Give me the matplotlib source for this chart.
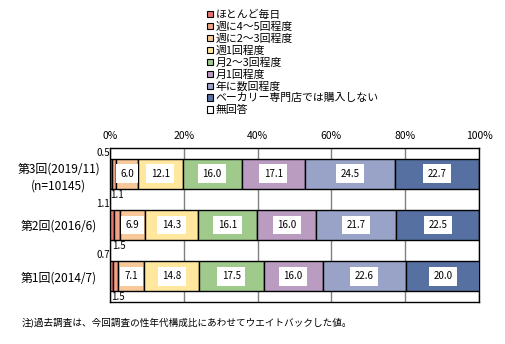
import matplotlib.pyplot as plt
import numpy as np

plt.rcParams['font.family'] = ['Noto Sans CJK JP', 'DejaVu Sans']

rounds = ['第3回(2019/11)\n(n=10145)', '第2回(2016/6)', '第1回(2014/7)']
items = ['ほとんど毎日', '週に4～5回程度', '週に2～3回程度', '週1回程度', '月2～3回程度',
         '月1回程度', '年に数回程度', 'ベーカリー専門店では購入しない', '無回答']
colors = ['#E8746C', '#F0A286', '#F9C89A', '#FFE79E', '#A0C98C',
          '#B99CC0', '#99A3C8', '#5670A2', '#FFFFFF']
values = np.array([
    [0.5, 1.1, 6.0, 12.1, 16.0, 17.1, 24.5, 22.7, 0.0],
    [1.1, 1.5, 6.9, 14.3, 16.1, 16.0, 21.7, 22.5, 0.0],
    [0.7, 1.5, 7.1, 14.8, 17.5, 16.0, 22.6, 20.0, 0.0],
])

fig = plt.figure(figsize=(5.05, 3.44), dpi=100)
ax = fig.add_axes([110 / 505, 1 - 302 / 344, 369 / 505, 154 / 344])

y = np.arange(len(rounds))
left = np.zeros(len(rounds))
for j in range(len(items)):
    ax.barh(y, values[:, j], left=left, height=0.585, color=colors[j],
            edgecolor='black', linewidth=1.0, zorder=3)
    for i in range(len(rounds)):
        v = values[i, j]
        if v >= 5:
            ax.text(left[i] + v / 2, y[i], f'{v:.1f}', ha='center', va='center',
                    fontsize=7, zorder=4,
                    bbox=dict(facecolor='white', edgecolor='none', pad=3.2))
        elif j == 0:
            ax.text(left[i], y[i] - 0.31, f'{v:.1f}', ha='right', va='bottom',
                    fontsize=7)
        elif j == 1:
            ax.text(left[i] - 0.4, y[i] + 0.31, f'{v:.1f}', ha='left', va='top',
                    fontsize=7)
    left += values[:, j]

ax.set_xlim(0, 100)
ax.set_ylim(2.5, -0.5)
ax.set_xticks(range(0, 101, 20))
ax.set_xticklabels([f'{t}%' for t in range(0, 101, 20)], fontsize=7.5)
ax.xaxis.tick_top()
ax.tick_params(axis='x', length=0, pad=5)
ax.set_yticks(y)
ax.set_yticklabels(rounds, fontsize=8.6, linespacing=1.4, ha='center')
ax.tick_params(axis='y', length=0, pad=37)
ax.grid(axis='x', color='#808080', linewidth=1.0, zorder=0)
for s in ax.spines.values():
    s.set_color('black')
    s.set_linewidth(1.0)

handles = [plt.Rectangle((0, 0), 1, 1, facecolor=c, edgecolor='black', linewidth=0.8)
           for c in colors]
fig.legend(handles, items, loc='upper left', bbox_to_anchor=(202 / 505, 1 - 4 / 344),
           frameon=False, fontsize=7.8, handlelength=0.55, handleheight=0.55,
           handletextpad=0.2, labelspacing=0.15, borderpad=0)

fig.text(22 / 505, 1 - 322 / 344, '注)過去調査は、今回調査の性年代構成比にあわせてウエイトバックした値。',
         fontsize=6.9, va='center')

fig.savefig('out.png', dpi=100)
